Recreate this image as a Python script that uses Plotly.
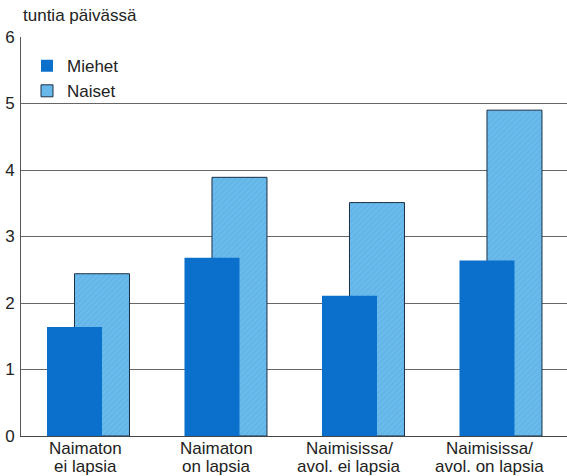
import plotly.graph_objects as go

categories = ["Naimaton\nei lapsia", "Naimaton\non lapsia",
              "Naimisissa/\navol. ei lapsia", "Naimisissa/\navol. on lapsia"]
miehet = [1.64, 2.68, 2.11, 2.64]
naiset = [2.44, 3.89, 3.51, 4.90]
y_ticks = [0, 1, 2, 3, 4, 5, 6]

# layout constants (positions, not data)
idx = list(range(len(categories)))
label_shift = [0.08, 0.03, 0.0, 0.015]
FONT = "Liberation Sans, Arial, sans-serif"

fig = go.Figure()
fig.add_trace(go.Bar(
    x=[i + 0.2 for i in idx], y=naiset, width=0.4, name="Naiset",
    marker=dict(color="#62b6ea", line=dict(color="#1c2f44", width=1),
                pattern=dict(shape="/", fgcolor="#4fa4dc", bgcolor="#6abbec",
                             size=4, solidity=0.25)),
    legendrank=2,
))
fig.add_trace(go.Bar(
    x=idx, y=miehet, width=0.4, name="Miehet",
    marker=dict(color="#0b6fcc", line=dict(width=0)),
    legendrank=1,
))

annotations = [dict(text="tuntia päivässä", xref="paper", yref="paper",
                    x=0.0, y=1.0, yshift=10, xanchor="left", yanchor="bottom",
                    showarrow=False, font=dict(size=17, color="#222"))]
for i, (cat, s) in enumerate(zip(categories, label_shift)):
    for j, line in enumerate(cat.split("\n")):
        annotations.append(dict(text=line, xref="x", yref="paper", x=i + s, y=0,
                                yanchor="top", xanchor="center", yshift=-1 - 18 * j,
                                showarrow=False, font=dict(size=17, color="#222")))

fig.update_layout(
    width=567, height=476,
    margin=dict(l=21, r=0, t=37, b=40, autoexpand=False),
    barmode="overlay",
    plot_bgcolor="white", paper_bgcolor="white",
    font=dict(family=FONT, size=16, color="#222"),
    showlegend=True,
    legend=dict(x=0.011, y=0.972, xanchor="left", yanchor="top",
                bgcolor="rgba(0,0,0,0)", font=dict(size=17, color="#222"),
                itemwidth=30, tracegroupgap=0),
    xaxis=dict(range=[-0.389, 3.582], showticklabels=False, showgrid=False,
               zeroline=False, automargin=False,
               showline=True, linecolor="#444", linewidth=1, ticks="",
               fixedrange=True),
    yaxis=dict(range=[0, 6], tickvals=y_ticks, showgrid=True, gridcolor="#666",
               gridwidth=1, zeroline=False, showline=True, linecolor="#555",
               linewidth=1, ticks="", tickfont=dict(size=17, color="#222"),
               automargin=False, ticklabelstandoff=2, fixedrange=True),
    annotations=annotations,
)

fig.write_html("out.html", config={"displayModeBar": False},
               post_script="document.body.style.margin='0';document.body.style.overflow='hidden';")
